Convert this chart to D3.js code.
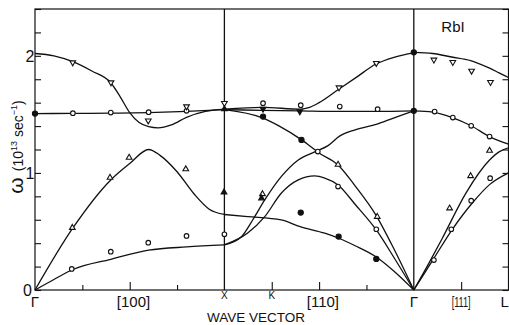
<!DOCTYPE html>
<html>
<head>
<meta charset="utf-8">
<script src="https://cdn.jsdelivr.net/npm/d3@7/dist/d3.min.js"></script>
<style>
  body { margin: 0; background: #fff; }
  svg { display: block; font-family: "Liberation Sans", Arial, sans-serif; }
</style>
</head>
<body>
<svg id="chart" width="509" height="325"></svg>
<script>
// path coordinate q: Γ = 0, X = 1, Γ = 2, L = 2.5 ; omega in 10^13 sec^-1

// Γ -> X  [100]
var lo100 = [[0,2.02],[0.1,2.0],[0.2,1.95],[0.3,1.87],[0.4,1.77],[0.45,1.65],[0.5,1.515],[0.55,1.43],
             [0.6,1.395],[0.65,1.385],[0.72,1.41],[0.8,1.475],[0.9,1.525],[1.0,1.545]];
var to100 = [[0,1.507],[0.2,1.508],[0.4,1.51],[0.6,1.515],[0.8,1.525],[1.0,1.54]];
var la100 = [[0,0],[0.2,0.53],[0.4,0.94],[0.5,1.08],[0.6,1.2],[0.66,1.15],[0.75,1.01],[0.84,0.82],
             [0.92,0.69],[1.0,0.645]];
var ta100 = [[0,0],[0.1,0.09],[0.2,0.175],[0.4,0.262],[0.6,0.34],[0.8,0.368],[1.0,0.385]];

// X -> K -> Γ  [110]
var lo110 = [[1.0,1.545],[1.2,1.56],[1.4,1.545],[1.45,1.56],[1.5,1.6],[1.6,1.71],[1.7,1.82],
             [1.8,1.93],[1.9,1.99],[2.0,2.025]];
var to110 = [[1.0,1.54],[1.2,1.535],[1.4,1.53],[1.6,1.525],[1.8,1.525],[2.0,1.53]];
var la110 = [[1.0,1.54],[1.2,1.47],[1.29,1.40],[1.41,1.28],[1.5,1.17],[1.6,1.068],[1.69,0.89],
             [1.8,0.64],[1.9,0.335],[2.0,0]];
var ta110a = [[1.0,0.385],[1.09,0.455],[1.15,0.6],[1.213,0.769],[1.3,0.968],[1.39,1.111],[1.477,1.18],
              [1.545,1.231],[1.61,1.316],[1.69,1.368],[1.81,1.419],[1.925,1.487],[2.0,1.53]];
var ta110b = [[1.0,0.385],[1.123,0.486],[1.213,0.626],[1.3,0.826],[1.39,0.94],[1.477,0.974],
              [1.53,0.955],[1.6,0.897],[1.693,0.726],[1.802,0.513],[1.9,0.265],[2.0,0]];
var ta110c = [[1.0,0.645],[1.123,0.627],[1.3,0.598],[1.4,0.541],[1.53,0.485],[1.6,0.444],
              [1.693,0.376],[1.802,0.282],[1.9,0.154],[2.0,0]];

// Γ -> L  [111]
var lo111 = [[2.0,2.03],[2.1,2.02],[2.2,1.99],[2.3,1.96],[2.4,1.895],[2.45,1.855],[2.5,1.815]];
var to111 = [[2.0,1.53],[2.1,1.52],[2.2,1.475],[2.3,1.405],[2.4,1.31],[2.5,1.245]];
var la111 = [[2.0,0],[2.08,0.23],[2.15,0.44],[2.276,0.83],[2.4,1.11],[2.45,1.18],[2.5,1.215]];
var ta111 = [[2.0,0],[2.1,0.255],[2.2,0.51],[2.31,0.745],[2.4,0.9],[2.5,1.0]];

var branches = [lo100, to100, la100, ta100, lo110, to110, la110, ta110a, ta110b, ta110c,
                lo111, to111, la111, ta111];

// measured points
var openCircles = [[0.2,1.51],[0.4,1.515],[0.6,1.519],[0.8,1.53],[0.194,0.18],[0.4,0.327],[0.598,0.404],
                   [0.8,0.462],[1.0,0.476],[1.204,1.596],[1.403,1.579],[1.493,1.182],[1.609,1.567],
                   [1.809,1.544],[1.6,0.883],[1.802,0.519],[2.11,1.524],[2.206,1.473],[2.303,1.402],
                   [2.4,1.31],[2.403,0.955],[2.303,0.763],[2.198,0.519],[2.106,0.256]];
var filledCircles = [[0,1.507],[1.204,1.481],[1.407,1.282],[2.0,2.03],[2.0,1.53],[1.403,0.661],
                     [1.603,0.456],[1.802,0.265]];
var openDown = [[0.199,1.943],[0.401,1.772],[0.598,1.447],[0.8,1.567],[1.0,1.596],[1.605,1.729],
                [1.802,1.938],[2.106,1.966],[2.206,1.946],[2.305,1.872],[2.405,1.775]];
var filledDown = [[1.204,1.547],[1.398,1.524]];
var openUp = [[0.197,0.532],[0.396,0.96],[0.497,1.131],[0.796,1.032],[1.6,1.071],[1.807,0.626],
              [1.201,0.82],[2.4,1.19],[2.3,0.974],[2.189,0.698]];
var filledUp = [[0.998,0.835],[1.196,0.784],[1.0,1.545]];

// axis ticks and labels
var yTicks = d3.range(0, 2.41, 0.2);
var yLabels = [0, 1, 2];
var xTicksShort = [0.25, 0.75, 1.75];
var xTicksLong = [0.5, 1.25, 1.5, 2.25];
var xDividers = [1, 2];
var xLabelText = ["Γ", "[100]", "X", "K", "[110]", "Γ", "[111]", "L"];
var xLabelPos = [0, 0.52, 1.0, 1.25, 1.52, 2.0, 2.25, 2.48];

var svg = d3.select("#chart");
var plotLeft = 35, plotRight = 508.5, plotTop = 9, plotBottom = 290;

var x = d3.scaleLinear().domain([0, 2.5]).range([plotLeft, plotRight]);
var y = d3.scaleLinear().domain([0, 2.4]).range([plotBottom, plotTop]);

// frame
svg.append("rect")
   .attr("x", plotLeft).attr("y", plotTop)
   .attr("width", plotRight - plotLeft).attr("height", plotBottom - plotTop)
   .attr("fill", "none").attr("stroke", "#111").attr("stroke-width", 1.2);

svg.selectAll("line.div")
   .data(xDividers)
   .enter().append("line")
   .attr("class", "div")
   .attr("x1", d => x(d)).attr("x2", d => x(d))
   .attr("y1", plotTop).attr("y2", plotBottom)
   .attr("stroke", "#111").attr("stroke-width", 1.3);

// y axis: inward ticks both sides
var yAxisL = d3.axisRight(y).tickValues(yTicks).tickSize(6).tickFormat("");
svg.append("g").attr("transform", "translate(" + plotLeft + ",0)").call(yAxisL);
var yAxisR = d3.axisLeft(y).tickValues(yTicks).tickSize(6).tickFormat("");
svg.append("g").attr("transform", "translate(" + plotRight + ",0)").call(yAxisR);

// x axis: inward ticks
svg.append("g").attr("transform", "translate(0," + plotBottom + ")")
   .call(d3.axisTop(x).tickValues(xTicksShort).tickSize(5).tickFormat(""));
svg.append("g").attr("transform", "translate(0," + plotBottom + ")")
   .call(d3.axisTop(x).tickValues(xTicksLong).tickSize(8).tickFormat(""));
svg.selectAll(".domain").remove();
svg.selectAll(".tick line").attr("stroke", "#111").attr("stroke-width", 1.1);

// y tick labels
svg.selectAll("text.ylab")
   .data(yLabels)
   .enter().append("text")
   .attr("class", "ylab")
   .attr("x", d => d == 0 ? 32 : 34.5)
   .attr("y", d => y(d))
   .attr("dy", "0.36em")
   .attr("text-anchor", "end")
   .attr("font-size", 16)
   .attr("fill", "#111")
   .text(d => d);

// x labels
svg.selectAll("text.xlab")
   .data(xLabelText)
   .enter().append("text")
   .attr("class", "xlab")
   .attr("x", (d, i) => x(xLabelPos[i]))
   .attr("y", (d, i) => (d == "X" || d == "K") ? 299 : 307)
   .attr("text-anchor", "middle")
   .attr("font-size", (d, i) => (d == "X" || d == "K") ? 10 : 15)
   .attr("fill", "#111")
   .attr("textLength", d => d == "[111]" ? 19 : null)
   .attr("lengthAdjust", "spacingAndGlyphs")
   .text(d => d);

svg.append("text")
   .attr("x", 256).attr("y", 321.5)
   .attr("text-anchor", "middle")
   .attr("font-size", 13.5)
   .attr("fill", "#111")
   .text("WAVE VECTOR");

svg.append("text")
   .attr("x", 453).attr("y", 32)
   .attr("text-anchor", "middle")
   .attr("font-size", 15)
   .attr("fill", "#111")
   .text("RbI");

// y axis title
var yTitle = svg.append("text")
   .attr("transform", "translate(23,147) rotate(-90)")
   .attr("text-anchor", "middle")
   .attr("font-size", 14)
   .attr("fill", "#111");
yTitle.append("tspan").attr("font-size", 21).text("ω");
yTitle.append("tspan").attr("dx", 6).text("(10");
yTitle.append("tspan").attr("font-size", 9).attr("dy", -6).text("13");
yTitle.append("tspan").attr("dy", 6).attr("dx", 4).text("sec");
yTitle.append("tspan").attr("font-size", 9).attr("dy", -6).text("−1");
yTitle.append("tspan").attr("dy", 6).text(")");

// dispersion curves
var line = d3.line()
             .x(d => x(d[0]))
             .y(d => y(d[1]))
             .curve(d3.curveMonotoneX);

svg.selectAll("path.branch")
   .data(branches)
   .enter().append("path")
   .attr("class", "branch")
   .attr("d", line)
   .attr("fill", "none")
   .attr("stroke", "#111")
   .attr("stroke-width", 1.3);

// data symbols
function addCircles(data, filled) {
  svg.append("g").selectAll("circle")
     .data(data)
     .enter().append("circle")
     .attr("cx", d => x(d[0]))
     .attr("cy", d => y(d[1]))
     .attr("r", filled ? 2.6 : 2.3)
     .attr("fill", filled ? "#111" : "#fff")
     .attr("stroke", "#111")
     .attr("stroke-width", 1.1);
}

var tri = d3.symbol().type(d3.symbolTriangle).size(14);
function addTriangles(data, filled, down) {
  svg.append("g").selectAll("path")
     .data(data)
     .enter().append("path")
     .attr("d", tri)
     .attr("transform", d => "translate(" + x(d[0]) + "," + y(d[1]) + ")" + (down ? " rotate(180)" : ""))
     .attr("fill", filled ? "#111" : "#fff")
     .attr("stroke", "#111")
     .attr("stroke-width", 1.1);
}

addCircles(openCircles, false);
addCircles(filledCircles, true);
addTriangles(openDown, false, true);
addTriangles(filledDown, true, true);
addTriangles(openUp, false, false);
addTriangles(filledUp, true, false);
</script>
</body>
</html>
